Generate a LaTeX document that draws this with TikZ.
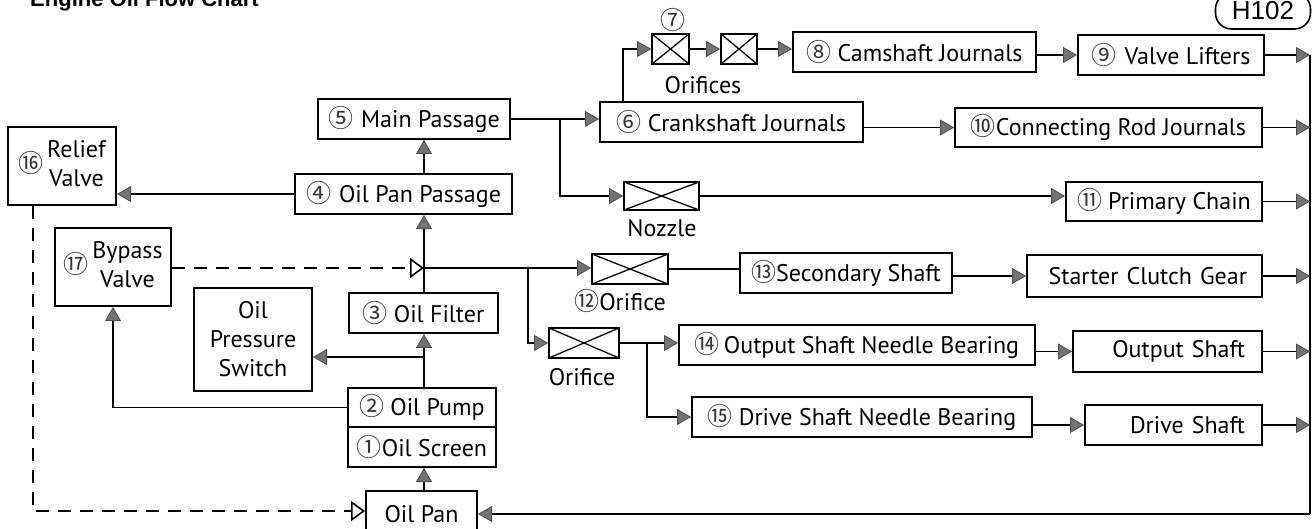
\documentclass[tikz,border=0pt]{standalone}
\usepackage{fontspec}
\setmainfont{PT Sans}
\newfontfamily\cjk{Noto Sans CJK JP}
\newfontfamily\titlefont{Liberation Sans}
\usetikzlibrary{arrows.meta}
\newcommand\cn[1]{{\cjk\fontsize{25}{25}\selectfont\color{black!80}#1}}
\newcommand\placebox[7][]{\node[box,#1,minimum width={#5-#3},minimum height={#6-#4}] (#2) at ({(#3+#5)/2},{(#4+#6)/2}) {#7};}
\tikzset{
  box/.style={draw, fill=white, line width=2pt, inner sep=0pt, align=center, font=\fontsize{24}{29}\selectfont},
  rt/.style={align=right, text width=#1},
  orif/.style={line width=1.8pt, path picture={\draw[line width=1.3pt] (path picture bounding box.north west) -- (path picture bounding box.south east) (path picture bounding box.south west) -- (path picture bounding box.north east);}},
  ln/.style={line width=1.8pt},
  arr/.style={ln, -{Triangle[length=14pt,width=16pt,color=black!70,fill=black!55,line width=0.8pt]}},
  darr/.style={ln, dash pattern=on 13pt off 9pt, -{Triangle[open,length=14pt,width=20pt,fill=white,line width=1.6pt]}},
  lbl/.style={font=\fontsize{24}{29}\selectfont, inner sep=0pt},
}
\begin{document}
\begin{tikzpicture}[x=1pt,y=-1pt]
\useasboundingbox (0,0) rectangle (1315,529);
% title and tag
\node[anchor=base west, font=\titlefont\bfseries\fontsize{22}{22}\selectfont, inner sep=0pt] (title) at (30,7) {Engine Oil Flow Chart};
\node[draw, rounded corners=16pt, line width=1.6pt, minimum width=95pt, minimum height=36pt, inner sep=0pt, font=\titlefont\fontsize{26}{26}\selectfont] (h102) at (1263,11) {H102};

% boxes
\placebox{cam}{793}{32}{1036}{72}{\cn{⑧}\hspace{6pt}Camshaft Journals}
\placebox{valve}{1078}{35}{1264}{75}{\cn{⑨}\hspace{8pt}Valve Lifters}
\placebox{main}{318}{99}{510}{139}{\cn{⑤}\hspace{8pt}Main Passage}
\placebox{crank}{600}{102}{863}{142}{\cn{⑥}\hspace{6pt}Crankshaft Journals}
\placebox{conrod}{955}{108}{1262}{147}{\cn{⑩}Connecting Rod Journals}
\placebox{relief}{8}{127}{116}{205}{\cn{⑯}\,\begin{tabular}{@{}c@{}}Relief\\Valve\end{tabular}}
\placebox{opp}{295}{174}{512}{214}{\cn{④}\hspace{8pt}Oil Pan Passage}
\placebox{prim}{1066}{182}{1262}{221}{\cn{⑪}\hspace{6pt}Primary Chain}
\placebox{bypass}{55}{228}{171}{306}{\cn{⑰}\,\begin{tabular}{@{}c@{}}Bypass\\Valve\end{tabular}}
\placebox{ss}{740}{253}{952}{293}{\cn{⑬}Secondary Shaft}
\placebox[rt=205]{start}{1027}{255}{1262}{297}{Starter Clutch Gear}
\placebox{ops}{194}{288}{312}{391}{Oil\\Pressure\\Switch}
\placebox{filter}{349}{293}{498}{333}{\cn{③}\hspace{6pt}Oil Filter}
\placebox{onb}{679}{325}{1035}{365}{\cn{⑭}\,Output Shaft Needle Bearing}
\placebox[rt=155]{os}{1073}{331}{1262}{372}{Output Shaft}
\placebox{pump}{348}{388}{496}{427}{\cn{②}\hspace{6pt}Oil Pump}
\placebox{screen}{348}{427}{496}{467}{\cn{①}Oil Screen}
\placebox{dsnb}{692}{397}{1032}{437}{\cn{⑮}\hspace{6pt}Drive Shaft Needle Bearing}
\placebox[rt=143]{ds}{1085}{405}{1262}{445}{Drive Shaft}
\placebox{pan}{366}{491}{477}{537}{Oil Pan}

% orifices
\placebox[orif]{o7a}{652}{34}{689}{64}{}
\placebox[orif]{o7b}{721}{34}{757}{64}{}
\placebox[orif]{nozzle}{624}{182}{699}{210}{}
\placebox[orif]{o12}{592}{254}{668}{284}{}
\placebox[orif]{olow}{549}{328}{619}{358}{}

% labels
\node[lbl] (l7) at (673,20) {\cn{⑦}};
\node[lbl] (lorifices) at (703,85) {Orifices};
\node[lbl] (lnozzle) at (662,228) {Nozzle};
\node[lbl] (lo12) at (620,301) {\cn{⑫}Orifice};
\node[lbl] (lolow) at (582,377) {Orifice};

% coordinates
\coordinate (J) at (424,268);
\coordinate (K) at (424,357);
\coordinate (R) at (33,511);
\coordinate (B1) at (1310,55);
\coordinate (B2) at (1310,514);
\coordinate (Nb) at (560,196);
\coordinate (C7) at (623,49);
\coordinate (Lb) at (528,343);
\coordinate (Mb) at (647,417);

% spine
\draw[arr] (pan.north -| J) -- (screen.south -| J);
\draw[arr] (pump.north -| J) -- (filter.south -| J);
\draw[arr] (K) -- (ops.east |- K);
\draw[ln] (filter.north -| J) -- (J);
\draw[arr] (J) -- (opp.south -| J);
\draw[arr] (opp.north -| J) -- (main.south -| J);
\draw[arr] (opp.west) -- (relief.east |- opp.west);
\draw[darr] (bypass.east |- J) -- (J);
\draw[arr] (pump.west) -| (bypass.south);
\draw[darr] (relief.south -| R) -- (R) -- (pan.west |- R);

% upper branches
\draw[arr] (main.east) -- (crank.west |- main.east);
\draw[arr] (main.east -| Nb) -- (Nb) -- (nozzle.west);
\draw[arr] (nozzle.east) -- (prim.west |- nozzle.east);
\draw[arr] (crank.north -| C7) -- (C7) -- (o7a.west);
\draw[arr] (o7a.east) -- (o7b.west);
\draw[arr] (o7b.east) -- (cam.west |- o7b.east);
\draw[arr] (cam.east |- valve.west) -- (valve.west);
\draw[arr] (crank.east |- conrod.west) -- (conrod.west);

% lower branches
\draw[arr] (J) -- (o12.west |- J);
\draw[arr] (J -| Lb) -- (Lb) -- (olow.west);
\draw[ln] (o12.east) -- (ss.west |- o12.east);
\draw[arr] (ss.east |- start.west) -- (start.west);
\draw[arr] (olow.east) -- (onb.west |- olow.east);
\draw[arr] (olow.east -| Mb) -- (Mb) -- (dsnb.west |- Mb);
\draw[arr] (onb.east |- os.west) -- (os.west);
\draw[arr] (dsnb.east |- ds.west) -- (ds.west);

% return bus
\draw[ln] (B1) -- (B2);
\draw[arr] (B2) -- (pan.east |- B2);
\draw[arr] (valve.east) -- (valve.east -| B1);
\draw[arr] (conrod.east) -- (conrod.east -| B1);
\draw[arr] (prim.east) -- (prim.east -| B1);
\draw[arr] (start.east) -- (start.east -| B1);
\draw[arr] (os.east) -- (os.east -| B1);
\draw[arr] (ds.east) -- (ds.east -| B1);
\end{tikzpicture}
\end{document}
